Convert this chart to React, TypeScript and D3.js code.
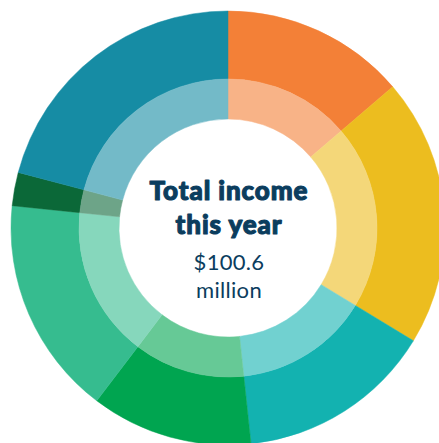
import React, { useRef, useEffect } from 'react';
import * as d3 from 'd3';

// income sources, clockwise from 12 o'clock ($ million)
const sources = ['Orange', 'Yellow', 'Teal', 'Green', 'Mint', 'Dark green', 'Blue'];
const amounts = [13.8, 20.1, 14.7, 12.1, 16.4, 2.5, 21.0];
const colours = ['#F38037', '#ECBD1F', '#13B2B0', '#00A550', '#36BC8F', '#0B6838', '#168CA4'];
const titleLines = ['Total income', 'this year'];
const valueLines = ['$100.6', 'million'];

const W = 439;
const H = 443;

const App: React.FC = () => {
  const svgRef = useRef<SVGSVGElement>(null);

  useEffect(() => {
    if (!svgRef.current) return;
    d3.select(svgRef.current).selectAll('*').remove();

    const svg = d3.select(svgRef.current);
    const cx = 228;
    const cy = 228;
    const rOuter = 217;
    const rMid = 149;
    const rInner = 109;

    const chart = svg.append('g').attr('transform', `translate(${cx}, ${cy})`);

    const pie = d3.pie<number>().sort(null).value(d => d);
    const arcs = pie(amounts);

    const outerArc = d3.arc<d3.PieArcDatum<number>>().innerRadius(rMid).outerRadius(rOuter);
    const innerArc = d3.arc<d3.PieArcDatum<number>>().innerRadius(rInner).outerRadius(rMid);

    chart.selectAll('path.outer')
      .data(arcs)
      .join('path')
      .attr('class', 'outer')
      .attr('d', outerArc)
      .attr('fill', (_, i) => colours[i])
      .attr('stroke', (_, i) => colours[i])
      .attr('stroke-width', 0.5)
      .append('title')
      .text((d, i) => `${sources[i]}: $${d.data}m`);

    // lighter inner ring, same colour washed with white
    chart.selectAll('path.inner')
      .data(arcs)
      .join('path')
      .attr('class', 'inner')
      .attr('d', innerArc)
      .attr('fill', (_, i) => d3.interpolateRgb(colours[i], '#ffffff')(0.4))
      .attr('stroke', (_, i) => d3.interpolateRgb(colours[i], '#ffffff')(0.4))
      .attr('stroke-width', 0.5);

    const ink = '#0B3D5E';

    titleLines.forEach((t, i) => {
      chart.append('text')
        .attr('x', 1)
        .attr('y', -28 + i * 34)
        .attr('text-anchor', 'middle')
        .attr('fill', ink)
        .attr('stroke', ink)
        .attr('stroke-width', 1.1)
        .attr('stroke-linejoin', 'round')
        .attr('font-family', 'Lato, sans-serif')
        .attr('font-weight', 900)
        .attr('font-size', '26px')
        .attr('letter-spacing', '0.9px')
        .text(t);
    });

    valueLines.forEach((t, i) => {
      chart.append('text')
        .attr('x', 1)
        .attr('y', 42 + i * 28)
        .attr('text-anchor', 'middle')
        .attr('fill', ink)
        .attr('font-family', 'Lato, sans-serif')
        .attr('font-weight', 400)
        .attr('font-size', '22px')
        .attr('letter-spacing', '0.3px')
        .text(t);
    });
  }, []);

  return (
    <svg
      ref={svgRef}
      width={W}
      height={H}
      style={{ position: 'absolute', left: 0, top: 0, background: '#fff' }}
    />
  );
};

export default App;
